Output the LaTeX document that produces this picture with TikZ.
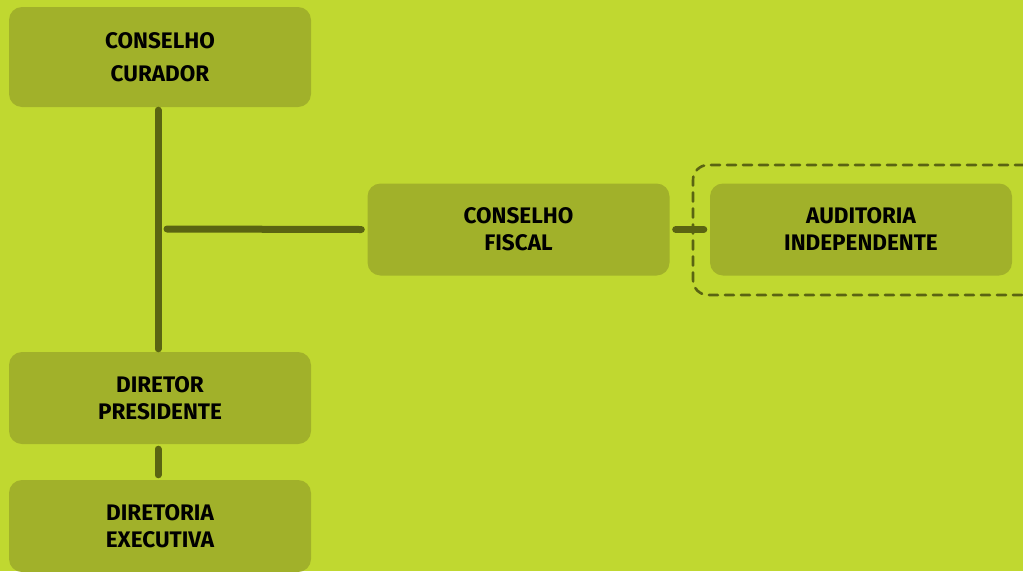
\documentclass[tikz,border=0pt]{standalone}
\usepackage{fontspec}
\setmainfont{Fira Sans}
\definecolor{bgcol}{RGB}{192,216,48}
\definecolor{boxcol}{RGB}{161,177,42}
\definecolor{linecol}{RGB}{90,100,18}
\def\boxwidth{302pt}
\begin{document}
\begin{tikzpicture}[x=1pt,y=-1pt,line cap=round]
    \tikzstyle{box}=[rectangle,fill=boxcol,rounded corners=13pt,minimum width=\boxwidth,
        minimum height=92pt,inner sep=0pt,align=center,
        font=\bfseries\fontsize{22.5}{27}\selectfont]
    \tikzstyle{link}=[draw=linecol,line width=7pt]
    \tikzstyle{group}=[draw=linecol,line width=2.6pt,dash pattern=on 9pt off 7pt,rounded corners=15pt]

    % Background
    \fill[bgcol] (0,0) rectangle (1023,571);
    \useasboundingbox (0,0) rectangle (1023,571);

    % Draw the boxes
    \node[box, minimum height=100pt, font=\bfseries\fontsize{22.5}{33}\selectfont] (CUR) at (160,57) {CONSELHO\\CURADOR};
    \node[box] (FIS) at (518.5,229.5) {CONSELHO\\FISCAL};
    \node[box] (AUD) at (861,229.5) {AUDITORIA\\INDEPENDENTE};
    \node[box] (PRES) at (160,398) {DIRETOR\\PRESIDENTE};
    \node[box] (EXEC) at (160,526) {DIRETORIA\\EXECUTIVA};

    % Dashed frame round the audit
    \draw[group] (1040,165) -- (693,165) -- (693,295) -- (1040,295);

    % Connect the boxes
    \coordinate (J) at (167,229);
    \draw[link] ([xshift=-2pt,yshift=-3pt]CUR.south) -- ([xshift=-2pt,yshift=3pt]PRES.north);
    \draw[link] (J) -- ([xshift=-6pt]FIS.west);
    \draw[link] ([xshift=6pt]FIS.east) -- ([xshift=-6pt]AUD.west);
    \draw[link] ([xshift=-2pt,yshift=-5pt]PRES.south) -- ([xshift=-2pt,yshift=5pt]EXEC.north);
\end{tikzpicture}
\end{document}
